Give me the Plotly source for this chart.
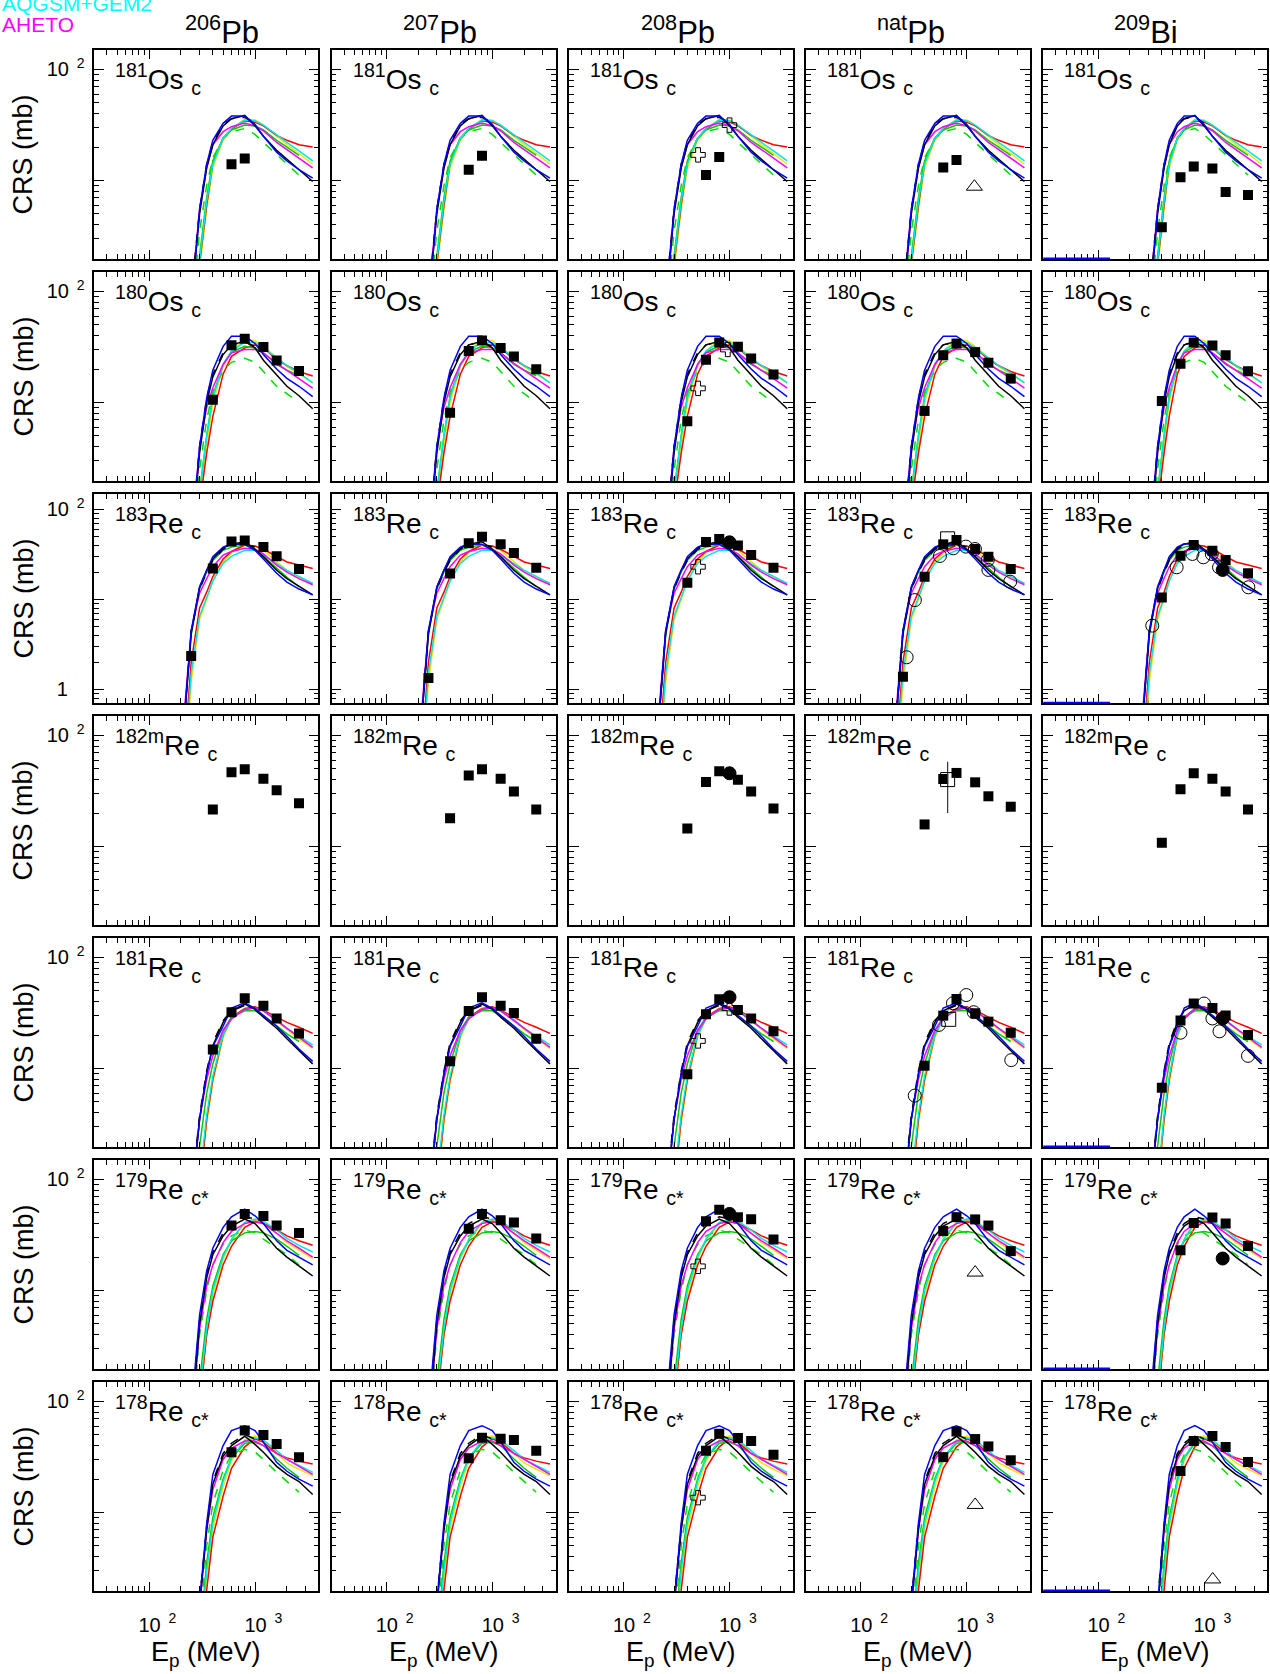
import plotly.graph_objects as go

# ---------------- DATA ----------------
TARGETS = ["<sup>206</sup>Pb", "<sup>207</sup>Pb", "<sup>208</sup>Pb", "<sup>nat</sup>Pb", "<sup>209</sup>Bi"]
PRODUCTS = ["<sup>181</sup>Os <sub>c</sub>", "<sup>180</sup>Os <sub>c</sub>", "<sup>183</sup>Re <sub>c</sub>",
            "<sup>182m</sup>Re <sub>c</sub>", "<sup>181</sup>Re <sub>c</sub>", "<sup>179</sup>Re <sub>c*</sub>",
            "<sup>178</sup>Re <sub>c*</sub>"]
LEGEND_LABELS = ["AQGSM+GEM2", "AHETO"]

# model energy grids (MeV): Pb targets and Bi target
E_MODEL = [150, 200, 250, 300, 350, 400, 500, 600, 800, 1000, 1200, 1600, 2000, 2600, 3500]
E_MODEL_BI = [185, 245, 305, 365, 420, 470, 560, 650, 820, 1000, 1200, 1600, 2000, 2600, 3500]
E_BI_FLOOR = [30, 130]
# experimental energies (MeV)
E_EXP = [250, 400, 600, 800, 1200, 1600, 2600]

# ---- model curves (mb) per product ----
OS181_BLUE = [0.01, 0.1, 0.7, 5.5, 14, 23, 32.7, 38, 38, 32, 25, 18, 15, 12.5, 10.5]
OS181_BLACK = [0.01, 0.1, 0.8, 5, 13, 21, 31, 36, 38.5, 31, 25, 18.7, 15.5, 12.5, 9.8]
OS181_BLACKD = [None, None, 0.9, 5.5, 14, 22, 32, 36, 37, 33, None, None, None, None, None]
OS181_MAG = [0.01, 0.1, 0.9, 5.5, 13, 21, 27.5, 30.5, 32.9, 31, 28, 22, 19, 16, 13]
OS181_RED = [0.01, 0.03, 0.3, 1.8, 6, 14.5, 24, 29, 34.5, 33.5, 31, 25.5, 23, 21, 20]
OS181_YEL = [0.01, 0.03, 0.25, 1.6, 5.5, 13, 23, 29, 35.5, 35, 31.5, 25, 21, 17.5, 14]
OS181_CYAN = [0.01, 0.03, 0.3, 1.9, 6.5, 14, 24, 29.5, 35, 34.5, 31.5, 25.5, 22, 18.5, 15]
OS181_GREEN = [0.01, 0.04, 0.35, 2.1, 7, 15, 24, 28.5, 31.5, 31, 28.5, 23, 20, 16.8, None]
OS181_GREEND = [0.01, 0.06, 0.6, 3.5, 9, 16, 24, 27.5, 29.4, 26, 22, 17, 14, 11.2, None]

OS180_BLUE = [0.01, 0.06, 0.5, 4, 11, 19.5, 32, 39.5, 39.5, 34, 27, 20, 16.5, 14, 11.3]
OS180_BLACK = [0.01, 0.06, 0.5, 3.5, 10, 17, 27, 33, 35.6, 31, 24, 17.5, 14, 11.5, 8.8]
OS180_BLACKD = [None, None, 0.6, 4, 11, 18, 28, 33, 35, 32, None, None, None, None, None]
OS180_MAG = [0.01, 0.07, 0.6, 4, 9, 13.6, 22, 28, 30, 30, 28, 22.5, 19.5, 16.5, 13.5]
OS180_RED = [0.01, 0.02, 0.25, 1.2, 3.5, 7.5, 18, 26, 31, 33, 31, 24.4, 21.5, 19, 17.3]
OS180_YEL = [0.01, 0.02, 0.2, 1.2, 4, 10, 21, 29, 37, 36, 32, 25, 21, 18, 15]
OS180_CYAN = [0.01, 0.02, 0.25, 1.5, 5, 11, 22, 29, 35, 34.5, 31, 25, 21.5, 18.5, 15]
OS180_GREEN = [0.01, 0.03, 0.3, 1.6, 5, 11.5, 22, 28.5, 32, 31, 28, 22, 19.5, 17.4, None]
OS180_GREEND = [0.01, 0.04, 0.45, 2.5, 7, 12.5, 19.5, 23, 25, 23, 19, 14, 12, 10, None]

RE183_BLUE = [0.02, 0.15, 4.5, 13.8, 21, 29.8, 38, 41.5, 41, 35, 28, 19.5, 15.5, 13, 11.2]
RE183_BLACK = [0.02, 0.15, 4.2, 13.5, 21, 28, 37, 41, 43.6, 36, 29.8, 21, 17, 14, 11.2]
RE183_BLACKD = [None, 0.15, 4.4, 13, 20, 27, 36, 40, 42, 38, None, None, None, None, None]
RE183_MAG = [0.03, 0.2, 4.5, 11.7, 17, 23, 31, 34, 36.9, 36, 32, 24, 20, 17, 14.5]
RE183_RED = [0.01, 0.06, 2, 8, 12, 17.9, 28, 34, 40, 39, 36, 30, 26, 24, 22]
RE183_YEL = [0.005, 0.03, 1.2, 6, 10, 16, 26, 33, 40, 39, 35, 26, 21, 17.5, 15]
RE183_CYAN = [0.005, 0.04, 1.5, 6.5, 10.5, 16, 25, 30, 35, 35, 31, 25, 21, 18, 15]
RE183_GREEN = [0.02, 0.15, 4, 13, 20, 27, 35, 38, 40, 36, 30, 22, 17.5, 13.8, None]
RE183_GREEND = None

RE181_BLUE = [0.01, 0.05, 0.6, 3.5, 9, 15.8, 24, 35, 39, 34.8, 30, 24, 19.5, 15, 11.6]
RE181_BLACK = [0.01, 0.05, 0.6, 3.5, 9, 16, 26, 33, 38, 34, 29, 23, 18.5, 14.5, 11]
RE181_BLACKD = [None, None, 0.7, 3.8, 9.5, 17, 27, 33, 37, 35, None, None, None, None, None]
RE181_MAG = [0.01, 0.06, 0.7, 3.5, 8, 13, 22, 28, 34, 35, 33, 27, 23, 19, 15.5]
RE181_RED = [0.005, 0.02, 0.15, 0.9, 3.5, 8, 20, 29, 34.5, 36, 33.5, 29, 26, 23.5, 20.7]
RE181_YEL = [0.005, 0.02, 0.12, 0.8, 3.2, 7.5, 19, 28, 35, 36, 33, 27, 22.5, 18.5, 15.2]
RE181_CYAN = [0.005, 0.02, 0.15, 1.0, 3.8, 8.5, 20, 28, 34, 35, 33, 27.5, 23, 19.5, 16.3]
RE181_GREEN = [0.01, 0.03, 0.3, 2, 6, 11, 22, 29, 33, 33, 30, 24, 20.5, 17.5, None]
RE181_GREEND = None

RE179_BLUE = [0.01, 0.05, 0.8, 6, 15, 24, 37, 46, 54, 47, 40, 28, 23, 20, 17]
RE179_BLACK = [0.01, 0.05, 0.6, 5, 13, 21, 31, 38, 44, 40, 33, 24, 20, 16.5, 13.5]
RE179_BLACKD = [None, None, 0.7, 5.5, 14, 22, 33, 40, 46, 44, None, None, None, None, None]
RE179_MAG = [0.01, 0.05, 0.6, 4.5, 11, 17, 27, 34, 40, 42, 40, 33, 28, 24, 20]
RE179_RED = [0.005, 0.015, 0.12, 1, 4, 8, 17, 25, 37, 41.5, 40, 35, 31, 28, 25.5]
RE179_YEL = [0.005, 0.015, 0.12, 1, 4, 9, 19, 28, 40, 43, 41, 33, 27, 23, 19.4]
RE179_CYAN = [0.005, 0.02, 0.15, 1.2, 4.5, 10, 20, 29, 41, 44, 42, 35, 29.5, 25.5, 22.2]
RE179_GREEN = [0.005, 0.02, 0.2, 1.5, 5.5, 11, 21, 28, 33, 34, 33, 29, 25, 20.7, None]
RE179_GREEND = [0.01, 0.04, 0.5, 4, 10, 17, 26, 31, 35, 33, 29, 24, 21, 17, None]

RE178_BLUE = [0.005, 0.02, 0.15, 1.5, 8, 22, 40, 54.6, 60.4, 54.6, 43, 28.3, 23.5, 20, 17.3]
RE178_BLACK = [0.005, 0.02, 0.15, 1.4, 7, 18, 32, 40, 48.5, 41, 34.8, 26, 22, 19, 14.5]
RE178_BLACKD = [None, None, None, 1.6, 7.5, 19, 34, 42, 50, 46, None, None, None, None, None]
RE178_MAG = [0.005, 0.02, 0.2, 1.6, 7, 16, 30, 38, 44, 44, 40, 34, 30, 26, 22]
RE178_RED = [0.002, 0.01, 0.05, 0.4, 2, 6, 14, 25, 39, 46, 42.8, 34, 31, 29, 27.3]
RE178_YEL = [0.002, 0.01, 0.06, 0.5, 2.5, 7, 17, 29, 45, 49, 45, 34, 28, 24.5, 21.5]
RE178_CYAN = [0.002, 0.01, 0.07, 0.6, 3, 8, 19, 31, 44, 47, 45, 36, 30, 26.5, 23]
RE178_GREEN = [0.003, 0.01, 0.08, 0.7, 3.5, 9, 20, 31, 42, 42.8, 40, 30.3, 25, 20.7, None]
RE178_GREEND = [0.004, 0.015, 0.12, 1, 5, 12, 24, 33, 37, 35, 30, 23, 19, 15.2, None]

# ---- experimental data (mb) at E_EXP, per product row, per target column ----
OS181_EXP = [[None, None, 14, 15.8, None, None, None],
             [None, None, 12.5, 16.7, None, None, None],
             [None, None, 11.2, 16.3, None, None, None],
             [None, None, 13.1, 15.3, None, None, None],
             [None, 3.8, 10.7, 13.4, 12.8, 7.9, 7.4]]
OS180_EXP = [[None, 10.6, 32.8, 37.4, 31.6, 23.9, 19.2],
             [None, 8.1, 29, 36.2, 31, 26, 19.9],
             [None, 6.8, 24.3, 34.7, 31.7, 24.9, 17.9],
             [None, 8.4, 26.6, 33.9, 28.4, 22.8, 16.4],
             [None, 10.3, 22.3, 34.7, 32.5, 26.6, 19.1]]
RE183_EXP = [[2.34, 22, 44, 45, 38, 30, 21.7],
             [1.34, 19.4, 41.9, 49.4, 40.8, 32.8, 22.4],
             [None, 15.3, 43.2, 46.8, 39.7, 31, 22.4],
             [1.38, 17.8, 40.8, 45.6, 36.2, 29.7, 21.7],
             [None, 10.5, 30.5, 40.1, 34.7, 27.4, 19.5]]
RE182M_EXP = [[None, 21.5, 46.5, 49.6, 40.8, 32, 24.5],
              [None, 18, 43.6, 49.6, 40.8, 31.3, 21.5],
              [None, 14.5, 38.1, 47.5, 39.9, 31.3, 22],
              [None, 15.8, 40.5, 45.9, 37.8, 28.3, 22.8],
              [None, 10.8, 32.7, 45.6, 40.8, 31.3, 21.5]]
RE181_EXP = [[None, 14.8, 32.1, 42.9, 36.7, 28.2, 20.7],
             [None, 11.6, 32.9, 43.8, 36.7, 31.5, 18.5],
             [None, 8.9, 30.8, 42, 33.6, 28.2, 21.6],
             [None, 10.6, 29.9, 42.2, 31.4, 26.4, 21],
             [None, 6.7, 27, 38.4, 35, 30, 20]]
RE179_EXP = [[None, None, 38.4, 48.9, 46.8, 38.4, 32.9],
             [None, None, 35.9, 48.9, 42.9, 41, 29.4],
             [None, None, 41.9, 53.3, 45.7, 43.7, 28.8],
             [None, None, 34.3, 45.7, 43.6, 38.4, 22.6],
             [None, None, 23, 40.5, 45.3, 40, 25.2]]
RE178_EXP = [[None, None, 34.8, 54.6, 49.8, 41.4, 31.4],
             [None, None, 30.8, 47, 46, 45, 36],
             [None, None, 36, 51.2, 46.9, 43.9, 33],
             [None, None, 31.5, 53.5, 45.8, 39.3, 29.5],
             [None, None, 23.6, 44, 48.8, 38.8, 28.5]]

# other experiments
OPEN_CIRCLE_E_R3C4 = [271, 324, 558, 746, 981, 1194, 1580, 1600, 2570]
OPEN_CIRCLE_V_R3C4 = [2.27, 9.8, 30.3, 36.9, 38.5, 36.2, 27.4, 21.2, 15.7]
OPEN_CIRCLE_E_R3C5 = [325, 552, 777, 985, 1183, 1386, 2620]
OPEN_CIRCLE_V_R3C5 = [5.1, 22.7, 31.9, 29.3, 31.9, 22.7, 13.6]
OPEN_CIRCLE_E_R5C4 = [323, 547, 741, 990, 1164, 2630]
OPEN_CIRCLE_V_R5C4 = [5.7, 24.7, 38.6, 45.8, 32.1, 11.9]
OPEN_CIRCLE_E_R5C5 = [600, 1000, 1200, 1400, 2600]
OPEN_CIRCLE_V_R5C5 = [21, 38.4, 28.2, 21.6, 13]

FILLED_CIRCLE = [(2, 2, 1000, 43), (3, 2, 1000, 45.6), (4, 2, 1000, 43.8), (5, 2, 1000, 48.9),
                 (2, 4, 1500, 21.2), (4, 4, 1500, 28.2), (5, 4, 1500, 19.4)]
OPEN_CROSS = [(0, 2, 505, 17), (0, 2, 1000, 31.5), (1, 2, 505, 13.4), (1, 2, 963, 30),
              (2, 2, 505, 23), (4, 2, 505, 17.7), (4, 2, 1000, 35), (5, 2, 505, 16.5),
              (6, 2, 505, 13.6)]
OPEN_SQUARE = [(2, 3, 660, 47), (3, 3, 660, 40), (4, 3, 676, 27.7)]
OPEN_SQUARE_ERR_PLUS = [0, 18, 0]
OPEN_SQUARE_ERR_MINUS = [0, 20, 0]
OPEN_TRIANGLE = [(0, 3, 1180, 8.8), (5, 3, 1200, 14.5), (6, 3, 1200, 11.7), (6, 4, 1208, 2.5)]

# ---------------- STYLE / LAYOUT ----------------
W, H = 1270, 1674
FONT = "Liberation Sans, Arial, Helvetica, sans-serif"
COL_LEFT = [94.3 + 237.25 * c for c in range(5)]
PANEL_W = 224
ROW_TOP = [50 + 222 * r for r in range(7)]
PANEL_H = 209
X_RANGE = [1.484, 3.597]
Y_RANGE_STD = [0.294, 2.174]
Y_RANGE_R3 = [-0.152, 2.17]

MODEL_ORDER = ["YEL", "RED", "GREEN", "GREEND", "CYAN", "MAG", "BLACKD", "BLACK", "BLUE"]
MODEL_STYLE = {
    "BLUE": ("#0000ff", "solid"), "BLACK": ("#000000", "solid"), "BLACKD": ("#000000", "dash"),
    "MAG": ("#ff00ff", "solid"), "RED": ("#ff0000", "solid"), "YEL": ("#f2e600", "solid"),
    "GREEN": ("#00cc00", "solid"), "GREEND": ("#00dd00", "dash"), "CYAN": ("#00e6e6", "solid"),
}
ROW_MODELS = ["OS181", "OS180", "RE183", None, "RE181", "RE179", "RE178"]
ROW_EXP = [OS181_EXP, OS180_EXP, RE183_EXP, RE182M_EXP, RE181_EXP, RE179_EXP, RE178_EXP]
BI_FLOOR_ROWS = [0, 2, 4, 5, 6]

g = globals()
fig = go.Figure()


def px_x(x):
    return x / W


def px_y(y):
    return 1 - y / H


def ax(r, c):
    return r * 5 + c + 1


def yrange(r):
    return Y_RANGE_R3 if r == 2 else Y_RANGE_STD


for r in range(7):
    for c in range(5):
        k = ax(r, c)
        xs = "x" if k == 1 else f"x{k}"
        ys = "y" if k == 1 else f"y{k}"
        if ROW_MODELS[r]:
            egrid = E_MODEL_BI if c == 4 else E_MODEL
            for m in MODEL_ORDER:
                vals = g[f"{ROW_MODELS[r]}_{m}"]
                if vals is None:
                    continue
                col, dash = MODEL_STYLE[m]
                fig.add_trace(go.Scatter(x=egrid, y=vals, mode="lines", xaxis=xs, yaxis=ys,
                                         line=dict(color=col, width=1.5, dash=dash),
                                         showlegend=False, hoverinfo="skip", connectgaps=False))
            if c == 4 and r in BI_FLOOR_ROWS:
                fl = 10 ** (yrange(r)[0] + 0.004)
                fig.add_trace(go.Scatter(x=E_BI_FLOOR, y=[fl, fl], mode="lines", xaxis=xs, yaxis=ys,
                                         line=dict(color="#0000ff", width=2), showlegend=False,
                                         hoverinfo="skip", cliponaxis=False))
        vals = ROW_EXP[r][c]
        fig.add_trace(go.Scatter(x=E_EXP, y=vals, mode="markers", xaxis=xs, yaxis=ys,
                                 marker=dict(symbol="square", size=10, color="black"),
                                 error_y=dict(type="percent", value=9, color="black", thickness=1, width=0),
                                 showlegend=False))

circle_sets = [(2, 3, OPEN_CIRCLE_E_R3C4, OPEN_CIRCLE_V_R3C4), (2, 4, OPEN_CIRCLE_E_R3C5, OPEN_CIRCLE_V_R3C5),
               (4, 3, OPEN_CIRCLE_E_R5C4, OPEN_CIRCLE_V_R5C4), (4, 4, OPEN_CIRCLE_E_R5C5, OPEN_CIRCLE_V_R5C5)]
for r, c, es, vs in circle_sets:
    k = ax(r, c)
    fig.add_trace(go.Scatter(x=es, y=vs, mode="markers", xaxis=f"x{k}", yaxis=f"y{k}",
                             marker=dict(symbol="circle-open", size=13, color="black", line=dict(width=1)),
                             showlegend=False))


def add_points(items, symbol, size, err_plus=None, err_minus=None):
    for i, (r, c, e, v) in enumerate(items):
        k = ax(r, c)
        kw = {}
        if err_plus is not None and err_plus[i] > 0:
            kw["error_y"] = dict(type="data", array=[err_plus[i]], arrayminus=[err_minus[i]],
                                 color="#333333", thickness=1.2, width=0)
        fig.add_trace(go.Scatter(x=[e], y=[v], mode="markers", xaxis=f"x{k}", yaxis=f"y{k}",
                                 marker=dict(symbol=symbol, size=size, color="black",
                                             line=dict(width=1, color="black")),
                                 showlegend=False, **kw))


add_points(FILLED_CIRCLE, "circle", 13)
add_points(OPEN_CROSS, "cross-open", 12)
add_points(OPEN_SQUARE, "square-open", 14, OPEN_SQUARE_ERR_PLUS, OPEN_SQUARE_ERR_MINUS)
add_points(OPEN_TRIANGLE, "triangle-up-open", 14)

X_MINOR = [30, 40, 50, 60, 70, 80, 90, 200, 300, 400, 500, 600, 700, 800, 900, 2000, 3000]
Y_MINOR = [0.8, 0.9, 2, 3, 4, 5, 6, 7, 8, 9, 20, 30, 40, 50, 60, 70, 80, 90]
layout = dict(width=W, height=H, margin=dict(l=0, r=0, t=0, b=0), plot_bgcolor="white",
              paper_bgcolor="white", font=dict(family=FONT, color="black"), showlegend=False)
SUP_GAP = "\u00a0\u00a0"
LEAD = "\u00a0\u00a0\u00a0"
for r in range(7):
    for c in range(5):
        k = ax(r, c)
        xname = "xaxis" if k == 1 else f"xaxis{k}"
        yname = "yaxis" if k == 1 else f"yaxis{k}"
        x0, x1 = COL_LEFT[c], COL_LEFT[c] + PANEL_W
        y0, y1 = ROW_TOP[r], ROW_TOP[r] + PANEL_H
        xaxis = dict(
            type="log", range=X_RANGE, domain=[px_x(x0), px_x(x1)],
            anchor="y" if k == 1 else f"y{k}",
            showline=True, linecolor="black", linewidth=1.6, mirror="ticks",
            ticks="inside", ticklen=9, tickwidth=1.2, tickcolor="black",
            tickvals=[100, 1000], showticklabels=(r == 6),
            layer="below traces" if c == 4 else "above traces",
            minor=dict(tickvals=X_MINOR, ticks="inside", ticklen=5, tickwidth=1, tickcolor="black",
                       showgrid=False),
            showgrid=False, zeroline=False)
        if r == 6:
            xaxis.update(ticktext=[LEAD + "10<sup>" + SUP_GAP + "2</sup>", LEAD + "10<sup>" + SUP_GAP + "3</sup>"],
                         tickfont=dict(size=20, family=FONT), ticklabelstandoff=15)
        layout[xname] = xaxis
        if r == 2:
            yt = [1, 10, 100]
            ytt = ["1\u00a0\u00a0\u00a0", "\u00a0", "10<sup>" + SUP_GAP + "2</sup>"]
        else:
            yt = [10, 100]
            ytt = ["\u00a0", "10<sup>" + SUP_GAP + "2</sup>"]
        yaxis = dict(
            type="log", range=yrange(r), domain=[px_y(y1), px_y(y0)],
            anchor="x" if k == 1 else f"x{k}",
            showline=True, linecolor="black", linewidth=1.6, mirror="ticks",
            ticks="inside", ticklen=10, tickwidth=1.2, tickcolor="black",
            tickvals=yt, showticklabels=(c == 0),
            layer="below traces" if c == 4 else "above traces",
            minor=dict(tickvals=Y_MINOR, ticks="inside", ticklen=5, tickwidth=1, tickcolor="black",
                       showgrid=False),
            showgrid=False, zeroline=False)
        if c == 0:
            yaxis.update(ticktext=ytt, tickfont=dict(size=20, family=FONT), ticklabelstandoff=4)
        layout[yname] = yaxis

ann = []
HEADER_X = [222, 440, 678, 911, 1146]
for c in range(5):
    ann.append(dict(text=TARGETS[c], x=px_x(HEADER_X[c]), y=px_y(52), xref="paper", yref="paper",
                    xanchor="center", yanchor="bottom", showarrow=False,
                    font=dict(size=31, family=FONT, color="black")))
    ann.append(dict(text="E<sub>p</sub> (MeV)", x=px_x(COL_LEFT[c] + PANEL_W / 2), y=px_y(1654),
                    xref="paper", yref="paper", xanchor="center", yanchor="middle", showarrow=False,
                    font=dict(size=27, family=FONT, color="black")))
for r in range(7):
    ann.append(dict(text="CRS (mb)", x=px_x(23), y=px_y(ROW_TOP[r] + PANEL_H / 2), xref="paper",
                    yref="paper", xanchor="center", yanchor="middle", textangle=-90, showarrow=False,
                    font=dict(size=27, family=FONT, color="black")))
    for c in range(5):
        ann.append(dict(text=PRODUCTS[r], x=px_x(COL_LEFT[c] + 19), y=px_y(ROW_TOP[r] + 7),
                        xref="paper", yref="paper", xanchor="left", yanchor="top", showarrow=False,
                        font=dict(size=28, family=FONT, color="black")))
ann.append(dict(text=LEGEND_LABELS[0], x=0, y=px_y(17), xref="paper", yref="paper", xanchor="left",
                yanchor="bottom", showarrow=False, font=dict(size=21, family=FONT, color="#00ffff")))
ann.append(dict(text=LEGEND_LABELS[1], x=0, y=px_y(38), xref="paper", yref="paper", xanchor="left",
                yanchor="bottom", showarrow=False, font=dict(size=21, family=FONT, color="#ff00ff")))
layout["annotations"] = ann
fig.update_layout(**layout)
fig.write_html("out.html", config={"displayModeBar": False},
               post_script="document.body.style.margin='0px';document.body.style.overflow='hidden';")
